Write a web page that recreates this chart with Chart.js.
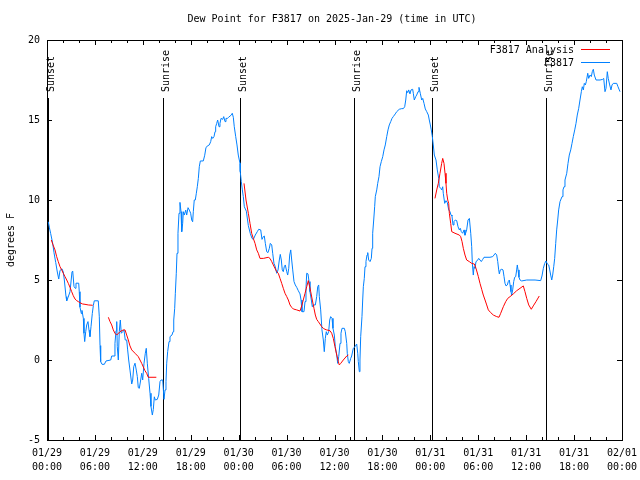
<!DOCTYPE html>
<html>
<head>
<meta charset="utf-8">
<script src="https://cdn.jsdelivr.net/npm/chart.js@4.4.1/dist/chart.umd.min.js"></script>
<style>
  html, body { margin: 0; padding: 0; background: #fff; }
  #wrap { width: 640px; height: 480px; }
</style>
</head>
<body>
<div id="wrap"><canvas id="dewChart" width="640" height="480"></canvas></div>
<script>
// hours since 01/29 00:00 UTC
var blueHours = [0.16,0.29,0.46,0.71,0.88,1.09,1.29,1.47,1.63,1.88,2.04,2.17,2.38,2.47,2.63,2.88,3.13,3.22,3.38,3.54,3.63,3.97,4.04,4.13,4.3,4.38,4.55,4.63,4.72,4.85,4.97,5.13,5.26,5.38,5.51,5.67,5.8,5.92,6.42,6.55,6.64,6.72,6.89,7.18,7.39,7.98,8.1,8.39,8.51,8.64,8.73,8.8,8.93,9.05,9.18,9.3,9.48,9.64,9.8,9.98,10.1,10.23,10.39,10.61,10.73,10.86,11.02,11.18,11.31,11.43,11.56,11.73,11.86,11.98,12.15,12.31,12.43,12.56,12.73,12.9,13.02,13.19,13.31,13.44,13.56,13.81,13.99,14.15,14.28,14.49,14.65,14.78,14.9,14.99,15.11,15.28,15.4,15.65,15.78,15.87,15.99,16.07,16.19,16.28,16.4,16.53,16.65,16.78,16.87,16.99,17.07,17.19,17.37,17.49,17.66,17.82,17.99,18.12,18.24,18.32,18.44,18.57,18.7,18.82,18.95,19.07,19.2,19.57,19.75,19.91,20.16,20.32,20.5,20.62,20.75,20.91,21.04,21.12,21.25,21.37,21.54,21.66,21.79,22.0,22.13,22.29,22.41,22.58,22.75,22.92,23.08,23.2,23.33,23.45,23.63,23.79,23.95,24.08,24.17,24.2,24.33,24.46,24.58,24.71,24.96,25.21,25.46,25.67,25.84,26.08,26.33,26.51,26.76,26.92,27.09,27.21,27.34,27.51,27.67,27.84,27.96,28.14,28.26,28.42,28.59,28.76,28.93,29.09,29.21,29.34,29.46,29.59,29.71,29.84,30.02,30.14,30.27,30.39,30.52,30.64,30.77,30.93,31.09,31.27,31.47,31.68,31.81,31.93,32.18,32.31,32.43,32.52,32.68,32.81,32.93,33.1,33.22,33.35,33.6,33.77,33.9,34.02,34.1,34.27,34.43,34.6,34.72,34.85,34.97,35.1,35.27,35.4,35.52,35.69,35.81,35.98,36.1,36.28,36.4,36.53,36.69,36.81,36.94,37.23,37.35,37.53,37.6,37.73,37.85,38.03,38.15,38.35,38.57,38.78,38.91,38.98,39.11,39.19,39.28,39.44,39.53,39.61,39.73,39.82,39.94,40.07,40.16,40.28,40.45,40.61,40.7,40.78,40.91,41.03,41.11,41.29,41.41,41.57,41.7,41.86,42.04,42.2,42.36,42.54,42.7,42.86,43.04,43.2,43.36,43.61,43.79,44.11,44.42,44.62,44.79,44.92,45.04,45.17,45.29,45.45,45.58,45.79,45.87,45.99,46.17,46.29,46.46,46.58,46.74,46.92,47.05,47.21,47.37,47.55,47.75,47.87,48.0,48.12,48.25,48.37,48.5,48.71,48.87,49.05,49.12,49.3,49.42,49.55,49.62,49.8,49.96,50.13,50.3,50.46,50.59,50.71,50.84,50.96,51.13,51.3,51.47,51.63,51.75,51.88,52.05,52.22,52.34,52.55,52.72,52.89,53.06,53.18,53.26,53.38,53.47,53.59,53.72,53.88,54.06,54.22,54.38,54.56,54.72,55.47,55.81,55.97,56.14,56.31,56.44,56.56,56.64,56.76,56.94,57.1,57.23,57.35,57.48,57.64,57.76,57.89,57.98,58.1,58.19,58.31,58.44,58.56,58.69,58.81,58.89,58.98,59.1,59.23,59.44,60.07,61.11,61.82,61.98,62.15,62.32,62.48,62.65,62.82,62.95,63.07,63.2,63.32,63.45,63.57,63.7,63.82,63.95,64.07,64.24,64.49,64.61,64.74,64.86,65.08,65.24,65.4,65.58,65.74,65.9,66.08,66.24,66.4,66.58,66.74,66.91,67.03,67.16,67.28,67.41,67.53,67.71,67.83,68.0,68.16,68.28,68.41,68.53,68.75,69.25,69.58,69.71,69.87,70.0,70.16,70.28,70.46,70.62,70.75,70.91,71.34,71.5,71.66,71.75];
var blueDew = [8.64,8.3,7.9,7.3,6.7,6.1,5.5,5.06,5.6,5.7,5.5,5.0,3.96,3.7,3.9,4.27,5.5,5.56,4.6,4.48,4.8,4.8,4.27,3.3,2.9,3.1,2.6,1.67,1.15,1.77,2.19,2.4,1.87,1.46,2.08,2.9,3.4,3.7,3.7,2.7,0.9,-0.1,-0.27,-0.27,-0.06,0.0,0.25,0.25,1.04,1.83,2.4,0.83,0.0,1.77,2.5,1.67,1.77,1.87,1.25,1.25,0.63,0.0,-0.63,-1.5,-1.25,-0.42,-0.2,-0.63,-1.04,-1.73,-1.77,-1.25,-0.83,-1.25,-0.2,0.42,0.73,-0.2,-1.15,-2.08,-2.9,-3.44,-3.1,-2.3,-2.5,-2.46,-2.19,-1.35,-1.25,-1.25,-2.46,-1.87,-1.35,-0.2,0.52,1.15,1.46,1.56,1.77,2.5,3.23,4.17,5.42,6.67,7.92,9.17,9.85,9.27,8.02,8.54,9.27,9.06,9.37,9.06,9.52,9.37,9.17,8.75,8.64,9.27,10.0,10.0,10.42,10.83,11.35,12.08,12.44,12.44,12.8,13.29,13.4,13.44,13.65,13.96,13.85,13.96,14.27,14.58,14.79,15.0,14.58,14.79,15.1,15.04,15.21,14.9,15.1,15.1,15.17,15.25,15.31,15.42,15.17,14.58,13.96,13.44,12.81,12.5,12.29,11.77,11.15,10.63,10.21,9.58,9.3,8.4,7.9,7.6,7.54,7.81,8.02,8.17,8.13,7.54,7.71,7.75,7.29,6.77,6.71,6.98,7.29,7.19,6.67,6.04,5.83,5.42,5.63,6.25,6.6,6.25,5.63,5.52,5.83,5.94,5.52,5.31,5.73,6.56,6.88,6.25,5.63,4.9,4.69,4.54,4.33,4.13,3.75,3.02,3.02,3.65,4.48,5.42,5.38,4.9,4.27,3.75,3.33,3.44,3.44,3.96,4.58,4.69,3.96,3.13,1.88,1.25,0.52,1.35,1.77,1.56,1.77,2.5,2.71,2.6,1.98,1.56,0.83,0.31,-0.21,0.21,1.04,1.67,1.98,1.98,1.77,1.04,0.42,-0.1,-0.21,0.1,0.25,0.73,0.83,1.0,0.42,-0.1,-0.73,0.0,1.46,2.71,3.75,4.58,5.1,5.83,6.15,6.56,6.71,6.25,6.15,6.35,6.98,7.92,8.75,9.58,10.21,10.63,11.04,11.46,12.08,12.4,12.71,13.13,13.44,13.96,14.38,14.69,14.9,15.1,15.21,15.38,15.52,15.67,15.71,15.71,15.83,16.25,16.83,16.71,16.88,16.63,16.88,16.92,16.67,16.25,16.46,16.56,16.77,17.04,16.67,16.25,16.35,16.04,15.69,15.52,15.31,15.0,14.69,14.38,13.96,13.44,12.81,12.5,11.88,11.35,10.83,10.73,10.63,10.83,10.42,9.79,9.96,9.83,9.38,9.27,9.06,9.0,8.44,8.65,8.75,8.71,8.33,8.13,8.23,8.02,7.92,8.13,7.8,8.13,8.75,8.85,7.92,7.08,6.04,5.31,5.83,5.73,6.15,6.21,6.35,6.25,6.15,6.29,6.42,6.42,6.46,6.56,6.67,6.56,6.15,5.63,5.38,5.63,5.67,5.63,5.21,4.79,4.63,4.69,4.9,5.0,4.69,4.27,4.06,4.38,4.9,5.17,5.21,5.63,5.94,5.63,5.17,5.0,4.94,5.0,5.0,4.96,5.25,5.73,6.04,6.19,6.0,5.94,5.63,5.31,5.0,5.31,5.83,6.35,7.29,8.13,8.75,9.38,9.9,10.21,10.63,10.83,11.25,11.67,12.29,12.81,13.13,13.54,13.96,14.38,14.79,15.31,15.73,16.25,16.77,17.08,16.88,17.29,17.19,17.4,17.92,17.6,17.81,17.71,18.02,18.17,17.81,17.5,17.5,17.54,17.6,16.77,16.98,18.02,17.6,17.19,16.88,17.19,17.29,17.29,17.08,16.88,16.77];

// analysis: null breaks the line between runs
var redHours = [0.54,0.75,1.0,1.21,1.41,1.63,1.84,2.04,2.25,2.47,2.67,2.88,3.09,3.29,3.51,3.72,3.92,4.13,4.47,4.76,5.17,5.72,6.5,7.68,7.89,8.1,8.3,8.51,8.73,9.14,9.55,9.77,9.98,10.18,10.39,10.61,11.02,11.43,11.86,12.27,12.48,12.68,13.69,18,24.67,24.92,25.21,25.42,25.63,25.83,26.05,26.26,26.46,26.67,27.09,27.71,27.92,28.14,28.34,28.76,28.96,29.18,29.39,29.59,29.8,30.02,30.22,30.43,30.64,30.84,31.27,31.68,31.89,32.09,32.31,32.52,32.72,32.85,33.02,33.22,33.43,33.6,33.77,33.97,34.18,34.4,34.6,34.81,35.02,35.44,35.65,35.85,36.06,36.28,36.48,36.6,36.78,37.1,37.53,37.73,43,48.58,48.8,49.0,49.21,49.42,49.55,49.71,49.84,49.96,50.05,50.18,50.3,50.38,50.55,50.68,51.09,51.63,51.8,51.97,52.13,52.34,52.55,52.88,53.18,53.51,53.72,54.01,54.22,54.43,54.63,54.85,55.06,55.26,55.56,55.89,56.31,56.6,56.81,57.14,57.44,57.69,57.98,58.39,58.81,59.23,59.64,59.85,60.07,60.32,60.64,60.89,61.23,61.64];
var redDew = [7.5,7.2,6.88,6.46,6.15,5.83,5.63,5.42,5.21,5.0,4.79,4.54,4.27,4.02,3.81,3.71,3.65,3.58,3.5,3.48,3.44,3.42,null,2.67,2.4,2.19,1.88,1.67,1.56,1.77,1.88,1.88,1.56,1.25,0.88,0.63,0.42,0.21,-0.21,-0.67,-0.83,-1.08,-1.08,null,11.04,10.0,9.17,8.54,7.92,7.6,7.29,6.88,6.67,6.35,6.35,6.42,6.35,6.15,5.94,5.52,5.42,5.1,4.79,4.48,4.17,3.96,3.75,3.44,3.29,3.19,3.13,3.06,3.38,3.75,4.17,4.58,4.96,4.69,4.27,3.75,3.23,2.81,2.54,2.4,2.25,2.08,1.98,1.92,1.88,1.83,1.67,1.35,0.83,0.31,-0.1,-0.31,-0.21,0,0.25,0.31,null,10.1,10.63,11.04,11.67,12.29,12.6,12.29,11.67,11.04,10.42,10.0,9.79,9.17,8.54,8.02,7.92,7.81,7.71,7.4,6.98,6.56,6.25,6.15,6.04,6.0,5.73,5.21,4.79,4.42,4.06,3.75,3.44,3.13,2.96,2.81,2.71,2.67,2.92,3.33,3.65,3.85,3.96,4.13,4.33,4.48,4.63,4.27,3.85,3.44,3.17,3.38,3.65,4.0];

var eventHours = [0.13, 14.56, 24.17, 38.48, 48.25, 62.52];
var eventLabels = ['Sunset', 'Sunrise', 'Sunset', 'Sunrise', 'Sunset', 'Sunrise'];

var xTickHours = [0, 6, 12, 18, 24, 30, 36, 42, 48, 54, 60, 66, 72];
var xTickLabels = [
    ['01/29', '00:00'], ['01/29', '06:00'], ['01/29', '12:00'], ['01/29', '18:00'],
    ['01/30', '00:00'], ['01/30', '06:00'], ['01/30', '12:00'], ['01/30', '18:00'],
    ['01/31', '00:00'], ['01/31', '06:00'], ['01/31', '12:00'], ['01/31', '18:00'],
    ['02/01', '00:00']
];
var yTicks = [-5, 0, 5, 10, 15, 20];

var FONT = '10px "DejaVu Sans Mono", monospace';

function toPoints(xs, ys) {
    return xs.map(function(x, i) { return {x: x, y: ys[i]}; });
}

// gnuplot-ish frame, ticks, labels and sun events
var gnuFrame = {
    id: 'gnuFrame',
    beforeDatasetsDraw: function(chart) {
        var ctx = chart.ctx, a = chart.chartArea;
        var xs = chart.scales.x, ys = chart.scales.y;
        ctx.save();
        ctx.strokeStyle = '#000';
        ctx.lineWidth = 1;

        // sunrise / sunset lines
        eventHours.forEach(function(h) {
            var px = Math.round(xs.getPixelForValue(h)) + 0.5;
            ctx.beginPath();
            ctx.moveTo(px, 98);
            ctx.lineTo(px, a.bottom);
            ctx.stroke();
        });
        ctx.fillStyle = '#000';
        ctx.font = FONT;
        ctx.textAlign = 'left';
        ctx.textBaseline = 'alphabetic';
        eventHours.forEach(function(h, i) {
            var px = Math.round(xs.getPixelForValue(h));
            ctx.save();
            ctx.translate(px + 6, 92);
            ctx.rotate(-Math.PI / 2);
            ctx.fillText(eventLabels[i], 0, 0);
            ctx.restore();
        });

        // border
        ctx.strokeRect(Math.round(a.left) + 0.5, Math.round(a.top) + 0.5,
            Math.round(a.right - a.left), Math.round(a.bottom - a.top));

        // x ticks: major every 6h, minor every 2h, top and bottom
        for (var h = 0; h <= 72; h += 2) {
            var px = Math.round(xs.getPixelForValue(h)) + 0.5;
            var len = (h % 6 === 0) ? 5 : 3;
            ctx.beginPath();
            ctx.moveTo(px, a.bottom); ctx.lineTo(px, a.bottom - len);
            ctx.moveTo(px, a.top); ctx.lineTo(px, a.top + len);
            ctx.stroke();
        }
        // y ticks left and right
        yTicks.forEach(function(v) {
            var py = Math.round(ys.getPixelForValue(v)) + 0.5;
            ctx.beginPath();
            ctx.moveTo(a.left, py); ctx.lineTo(a.left + 5, py);
            ctx.moveTo(a.right, py); ctx.lineTo(a.right - 5, py);
            ctx.stroke();
        });

        // tick labels
        ctx.textAlign = 'right';
        ctx.textBaseline = 'middle';
        yTicks.forEach(function(v) {
            ctx.fillText(String(v), 40, ys.getPixelForValue(v));
        });
        ctx.textAlign = 'center';
        xTickHours.forEach(function(h, i) {
            var px = xs.getPixelForValue(h);
            ctx.fillText(xTickLabels[i][0], px, 453);
            ctx.fillText(xTickLabels[i][1], px, 467);
        });

        // title and axis label
        ctx.fillText('Dew Point for F3817 on 2025-Jan-29 (time in UTC)', 332, 19);
        ctx.save();
        ctx.translate(11, 240);
        ctx.rotate(-Math.PI / 2);
        ctx.fillText('degrees F', 0, 0);
        ctx.restore();
        ctx.restore();
    },
    afterDatasetsDraw: function(chart) {
        var ctx = chart.ctx;
        ctx.save();
        ctx.font = FONT;
        ctx.textAlign = 'right';
        ctx.textBaseline = 'middle';
        ctx.fillStyle = '#000';
        ctx.lineWidth = 1;
        chart.data.datasets.forEach(function(ds, i) {
            var y = 50 + i * 13;
            ctx.fillText(ds.label, 574, y);
            ctx.strokeStyle = ds.borderColor;
            ctx.beginPath();
            ctx.moveTo(581, y - 0.5);
            ctx.lineTo(610, y - 0.5);
            ctx.stroke();
        });
        ctx.restore();
    }
};

var ctx = document.getElementById('dewChart').getContext('2d');
window.dewChart = new Chart(ctx, {
    type: 'line',
    data: {
        datasets: [
            {
                label: 'F3817 Analysis',
                data: toPoints(redHours, redDew),
                borderColor: '#ff0000',
                borderWidth: 1,
                pointRadius: 0,
                spanGaps: false,
                tension: 0
            },
            {
                label: 'F3817',
                data: toPoints(blueHours, blueDew),
                borderColor: '#0080ff',
                borderWidth: 1,
                pointRadius: 0,
                tension: 0
            }
        ]
    },
    options: {
        responsive: false,
        animation: false,
        devicePixelRatio: 1,
        layout: { padding: { left: 47, right: 18, top: 40, bottom: 40 } },
        plugins: {
            legend: { display: false },
            title: { display: false },
            tooltip: { enabled: false }
        },
        scales: {
            x: { type: 'linear', min: 0, max: 72, display: false },
            y: { type: 'linear', min: -5, max: 20, display: false }
        }
    },
    plugins: [gnuFrame]
});
</script>
</body>
</html>
